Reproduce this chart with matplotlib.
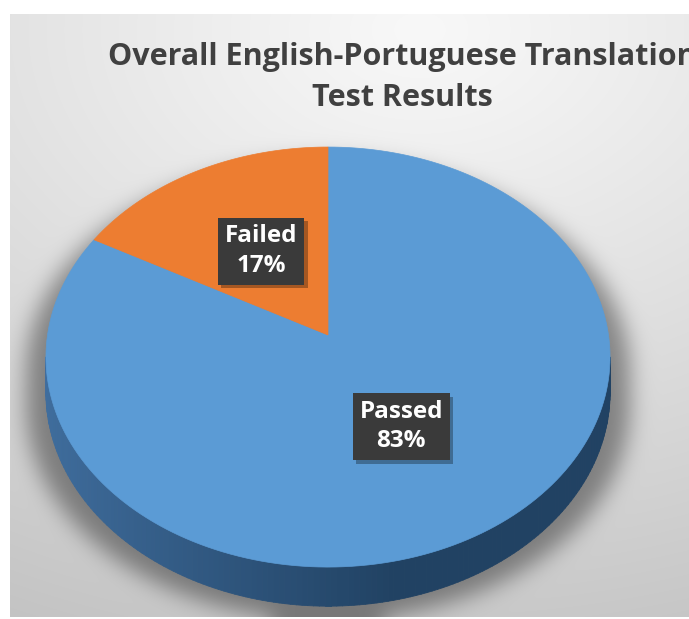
import numpy as np
import matplotlib.pyplot as plt
import matplotlib.patheffects as pe
from matplotlib.collections import PolyCollection
from matplotlib.patches import Polygon

# data
categories = ['Passed', 'Failed']
values = [83, 17]
colors = ['#5B9BD5', '#ED7D31']
title_lines = ['Overall English-Portuguese Translation', 'Test Results']

W, H = 689, 619

# pie geometry (pixels), simple perspective projection of a tilted disk
CX, CY = 328, 335
A, B = 280.5, 207.7
K = 0.105
DEPTH = 35


def project(u, v, drop=0.0):
    w = 1.0 - K * v
    return CX + A * u / w, CY + (B * v + drop) / w


def disk(phi_deg, r=1.0):
    # phi measured clockwise from 12 o'clock
    p = np.radians(phi_deg)
    return r * np.sin(p), -r * np.cos(p)


def pie_mask(xx, yy, a_scale=1.0, shift=0.0):
    m = np.zeros(xx.shape, dtype=bool)
    for s in np.linspace(0, DEPTH, 12):
        yv = yy - shift
        v = (yv - CY - s) / (B + K * (yv - CY))
        u = (xx - CX) * (1 - K * v) / (A * a_scale)
        m |= (u ** 2 + v ** 2) <= 1
    return m


def blur(img, sigma):
    n = int(3 * sigma)
    x = np.arange(-n, n + 1)
    ker = np.exp(-x ** 2 / (2 * sigma ** 2))
    ker /= ker.sum()
    pad = np.pad(img, n, mode='edge')
    out = np.apply_along_axis(lambda r: np.convolve(r, ker, mode='valid'), 1, pad)
    out = np.apply_along_axis(lambda c: np.convolve(c, ker, mode='valid'), 0, out)
    return out


fig = plt.figure(figsize=(W / 100, H / 100), dpi=100)
fig.patch.set_facecolor('white')
ax = fig.add_axes([0, 0, 1, 1])
ax.axis('off')

# background: radial gradient + soft shadow under the pie
x0, y0, x1, y1 = 10, 14, W, 617
xx, yy = np.meshgrid(np.arange(x0, x1) + 0.5, np.arange(y0, y1) + 0.5)
r = np.sqrt(((xx - 420) / 900) ** 2 + ((yy - 30) / 620) ** 2)
bg = (248 - 50 * r ** 1.1) / 255.0
shadow = blur(pie_mask(xx, yy, 1.07, 14).astype(float), 11)
bg = bg * (1 - 0.4 * shadow)
ax.imshow(np.dstack([bg, bg, bg]), extent=(x0, x1, y1, y0), interpolation='bilinear',
          zorder=0, aspect='auto')
ax.set_xlim(0, W)
ax.set_ylim(H, 0)

# side of the pie (front arc only)
phi_r = np.degrees(np.arccos(-K))
phis = np.linspace(phi_r, 360 - phi_r, 160)
quads, qcols = [], []
dark = np.array([0.13, 0.26, 0.39])
light = np.array([0.25, 0.43, 0.62])
for p0, p1 in zip(phis[:-1], phis[1:]):
    u0, v0 = disk(p0)
    u1, v1 = disk(p1)
    quads.append([project(u0, v0), project(u1, v1),
                  project(u1, v1, DEPTH), project(u0, v0, DEPTH)])
    f = np.clip((0.5 * (u0 + u1) + 1) / 1.2, 0, 1)
    qcols.append(light * (1 - f) + dark * f)
ax.add_collection(PolyCollection(quads, facecolors=qcols, edgecolors=qcols,
                                 linewidths=0.6, zorder=2))

# top face slices
bounds = np.concatenate([[0], np.cumsum(values)]) / np.sum(values) * 360
for i, cat in enumerate(categories):
    ph = np.linspace(bounds[i], bounds[i + 1], 200)
    u, v = disk(ph)
    px, py = project(u, v)
    pts = np.column_stack([np.r_[CX, px], np.r_[CY, py]])
    ax.add_patch(Polygon(pts, closed=True, facecolor=colors[i], edgecolor=colors[i],
                         linewidth=0.5, zorder=3))

# data labels
for i, cat in enumerate(categories):
    mid = 0.5 * (bounds[i] + bounds[i + 1])
    u, v = disk(mid, 0.49)
    lx, ly = project(u, v)
    label = f'{cat}\n{values[i] / sum(values) * 100:.0f}%'
    t = ax.text(lx, ly, label, ha='center', va='center', fontsize=17.5,
                family='Open Sans', weight='bold', color='white', linespacing=1.3,
                bbox=dict(boxstyle='square,pad=0.28', facecolor='#3A3A3A', edgecolor='none'),
                zorder=5)
    t.get_bbox_patch().set_path_effects([
        pe.SimplePatchShadow(offset=(2.5, -2.5), shadow_rgbFace='black', alpha=0.3),
        pe.Normal()])

# title (runs off the right edge like the original)
ax.text(402, 57, title_lines[0], ha='center', va='center', fontsize=22,
        family='Open Sans', weight='bold', color='#404040', zorder=6)
ax.text(402, 98, title_lines[1], ha='center', va='center', fontsize=22,
        family='Open Sans', weight='bold', color='#404040', zorder=6)

fig.savefig('out.png', dpi=100, facecolor='white')
